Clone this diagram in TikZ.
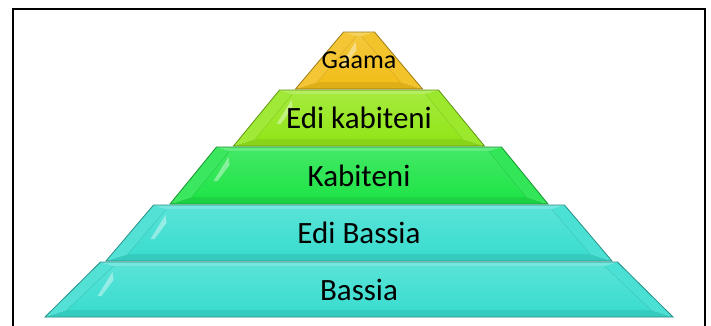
\documentclass[tikz,border=0pt]{standalone}
\usepackage{fontspec}
\setmainfont{Carlito}
\usetikzlibrary{calc}
\definecolor{gaamacol}{HTML}{F2BE1A}
\definecolor{edikabcol}{HTML}{93E61A}
\definecolor{kabcol}{HTML}{20E448}
\definecolor{bassiacol}{HTML}{3BDDD0}

\begin{document}
\begin{tikzpicture}[x=1pt,y=-1pt]
    \tikzstyle{layertext} = [inner sep=0pt,anchor=center]
    \tikzstyle{frame} = [line width=1.6pt,black]
    \useasboundingbox (0,0) rectangle (711,325);
    \fill[white] (0,0) rectangle (711,325);
    \draw[frame] (13,9) rectangle (705,345);
      % layers from top to bottom: name/text/top y/bottom y/top half width/bottom half width/colour/size
      \foreach \name/\txt/\ytop/\ybot/\wtop/\wbot/\col/\fsize in {
          gaama/Gaama/32/89/15.5/63.5/gaamacol/26,
          edikabiteni/{Edi kabiteni}/90/146/79.5/125.5/edikabcol/31,
          kabiteni/Kabiteni/147/204/142.5/189/kabcol/31,
          edibassia/{Edi Bassia}/205/261/205.5/253/bassiacol/31,
          bassia/Bassia/262/317/258.5/314/bassiacol/31} {
        \coordinate (\name-tl) at (359-\wtop,\ytop);
        \coordinate (\name-tr) at (359+\wtop,\ytop);
        \coordinate (\name-br) at (359+\wbot,\ybot);
        \coordinate (\name-bl) at (359-\wbot,\ybot);
        \coordinate (\name-itl) at (359-\wtop+13,\ytop+4);
        \coordinate (\name-itr) at (359+\wtop-13,\ytop+4);
        \coordinate (\name-ibr) at (359+\wbot-22,\ybot-7);
        \coordinate (\name-ibl) at (359-\wbot+22,\ybot-7);
        % bevel faces
        \fill[\col!70!white] (\name-tl) -- (\name-tr) -- (\name-itr) -- (\name-itl) -- cycle;
        \fill[\col!88!white] (\name-tl) -- (\name-itl) -- (\name-ibl) -- (\name-bl) -- cycle;
        \fill[\col!92!white] (\name-tr) -- (\name-br) -- (\name-ibr) -- (\name-itr) -- cycle;
        \fill[\col!92!black] (\name-bl) -- (\name-ibl) -- (\name-ibr) -- (\name-br) -- cycle;
        \shade[top color=\col!85!white,bottom color=\col] (\name-itl) -- (\name-itr) -- (\name-ibr) -- (\name-ibl) -- cycle;
        \draw[\col!88!black,line width=0.4pt] (\name-itl) -- (\name-ibl) (\name-itr) -- (\name-ibr);
        \fill[white,opacity=0.4] ($(\name-itl)+(-1,6)$) -- ($(\name-itl)+(0,14)$) -- ($(\name-itl)+(-12,30)$) -- ($(\name-itl)+(-16,30)$) -- cycle;
        \draw[\col!65!black,line width=0.8pt] (\name-tl) -- (\name-tr) -- (\name-br) -- (\name-bl) -- cycle;
        \node[layertext,font=\fontsize{\fsize}{\fsize}\selectfont] (\name) at (359,{(\ytop+\ybot)/2}) {\txt};
      }
\end{tikzpicture}
\end{document}
